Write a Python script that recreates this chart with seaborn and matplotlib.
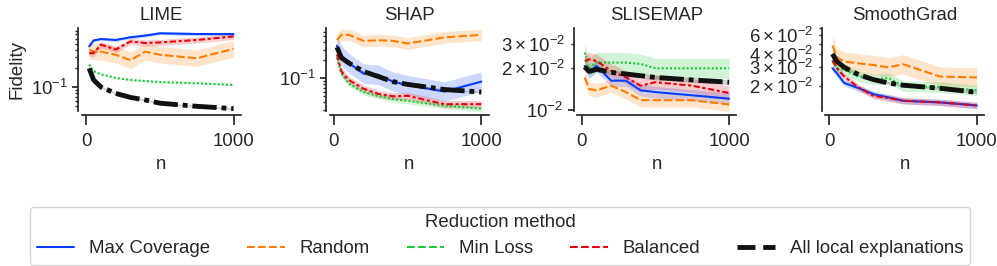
import numpy as np
import pandas as pd
import matplotlib
matplotlib.use("Agg")
import matplotlib.pyplot as plt
from matplotlib.lines import Line2D
import seaborn as sns

# ---------------- data ----------------
n_values = [20, 50, 100, 200, 300, 400, 500, 750, 1000]
explainers = ["LIME", "SHAP", "SLISEMAP", "SmoothGrad"]
methods = ["Max Coverage", "Random", "Min Loss", "Balanced", "All local explanations"]

lime_max_coverage = [0.45, 0.56, 0.59, 0.57, 0.63, 0.67, 0.73, 0.71, 0.71]
lime_random = [0.40, 0.37, 0.37, 0.33, 0.27, 0.37, 0.33, 0.29, 0.41]
lime_min_loss = [0.23, 0.18, 0.16, 0.14, 0.13, 0.125, 0.12, 0.115, 0.108]
lime_balanced = [0.35, 0.35, 0.48, 0.40, 0.54, 0.51, 0.52, 0.57, 0.65]
lime_all = [0.20, 0.13, 0.10, 0.079, 0.068, 0.062, 0.055, 0.049, 0.045]

shap_max_coverage = [0.35, 0.24, 0.18, 0.12, 0.114, 0.088, 0.077, 0.060, 0.088]
shap_random = [0.43, 0.53, 0.53, 0.42, 0.43, 0.42, 0.38, 0.48, 0.53]
shap_min_loss = [0.22, 0.12, 0.082, 0.059, 0.051, 0.045, 0.042, 0.035, 0.031]
shap_balanced = [0.25, 0.13, 0.094, 0.067, 0.055, 0.050, 0.051, 0.037, 0.037]
shap_all = [0.33, 0.22, 0.18, 0.13, 0.107, 0.088, 0.079, 0.065, 0.059]

slisemap_max_coverage = [0.0208, 0.0187, 0.0208, 0.0163, 0.0163, 0.0139, 0.0135, 0.0128, 0.0121]
slisemap_random = [0.0172, 0.0142, 0.0139, 0.0150, 0.0135, 0.0118, 0.0118, 0.0118, 0.0110]
slisemap_min_loss = [0.026, 0.020, 0.022, 0.022, 0.022, 0.0215, 0.020, 0.020, 0.020]
slisemap_balanced = [0.0226, 0.0232, 0.0226, 0.0192, 0.0172, 0.0150, 0.0159, 0.0150, 0.0133]
slisemap_all = [0.0205, 0.019, 0.0197, 0.0187, 0.0182, 0.0177, 0.0172, 0.0165, 0.0159]

smoothgrad_max_coverage = [0.0294, 0.0264, 0.0214, 0.0191, 0.0168, 0.0157, 0.0146, 0.0141, 0.0132]
smoothgrad_random = [0.048, 0.037, 0.034, 0.0326, 0.0315, 0.030, 0.032, 0.0246, 0.0241]
smoothgrad_min_loss = [0.034, 0.0294, 0.0284, 0.0246, 0.023, 0.0238, 0.020, 0.0196, 0.0183]
smoothgrad_balanced = [0.035, 0.0294, 0.0246, 0.0193, 0.0162, 0.0155, 0.0146, 0.0141, 0.0132]
smoothgrad_all = [0.040, 0.034, 0.030, 0.0255, 0.023, 0.0214, 0.0204, 0.0191, 0.0175]

# multiplicative half-width of the confidence bands (per explainer, per method)
lime_spread = [1.06, 1.36, 1.02, 1.12, 1.04]
shap_spread = [1.45, 1.25, 1.12, 1.15, 1.03]
slisemap_spread = [1.10, 1.12, 1.18, 1.12, 1.04]
smoothgrad_spread = [1.07, 1.23, 1.12, 1.07, 1.03]

# --------------------------------------
series = {
    "LIME": [lime_max_coverage, lime_random, lime_min_loss, lime_balanced, lime_all],
    "SHAP": [shap_max_coverage, shap_random, shap_min_loss, shap_balanced, shap_all],
    "SLISEMAP": [slisemap_max_coverage, slisemap_random, slisemap_min_loss, slisemap_balanced, slisemap_all],
    "SmoothGrad": [smoothgrad_max_coverage, smoothgrad_random, smoothgrad_min_loss, smoothgrad_balanced, smoothgrad_all],
}
spreads = {"LIME": lime_spread, "SHAP": shap_spread, "SLISEMAP": slisemap_spread, "SmoothGrad": smoothgrad_spread}

rows = []
for ex in explainers:
    for m, vals, sp in zip(methods, series[ex], spreads[ex]):
        for n, v in zip(n_values, vals):
            rows.append({"explainer": ex, "method": m, "n": n, "fidelity": v,
                         "lo": v / sp, "hi": v * sp})
df = pd.DataFrame(rows)

sns.set_theme(style="ticks")
plt.rcParams["font.family"] = ["Liberation Sans", "DejaVu Sans"]
plt.rcParams["mathtext.fontset"] = "custom"
plt.rcParams["mathtext.rm"] = "Liberation Sans"
plt.rcParams["mathtext.it"] = "Liberation Sans:italic"
plt.rcParams["mathtext.bf"] = "Liberation Sans:bold"
plt.rcParams["mathtext.sf"] = "Liberation Sans"
FS = 13.4
plt.rcParams.update({"font.size": FS, "axes.titlesize": FS, "axes.labelsize": FS,
                     "xtick.labelsize": FS, "ytick.labelsize": FS,
                     "legend.fontsize": FS, "legend.title_fontsize": FS,
                     "xtick.major.size": 7, "xtick.major.pad": 6,
                     "ytick.major.size": 4, "ytick.minor.size": 2.5})

colors = {"Max Coverage": "#023eff", "Random": "#ff7c00", "Min Loss": "#1ac938",
          "Balanced": "#e8000b", "All local explanations": "#111111"}
dashes = {"Max Coverage": "", "Random": (4, 1.5), "Min Loss": (1, 1),
          "Balanced": (3, 1.25, 1.5, 1.25), "All local explanations": (5, 1, 1, 1)}
widths = {"Max Coverage": 1.5, "Random": 1.5, "Min Loss": 1.5, "Balanced": 1.5,
          "All local explanations": 3.5}
ylims = {"LIME": (0.0405, 0.89), "SHAP": (0.028, 0.69),
         "SLISEMAP": (0.0098, 0.039), "SmoothGrad": (0.0116, 0.070)}

fig, axes = plt.subplots(1, 4, figsize=(9.97, 2.66), dpi=100)
fig.subplots_adjust(left=0.0822, right=0.987, top=0.895, bottom=0.581, wspace=0.56)

for ax, ex in zip(axes, explainers):
    d = df[df.explainer == ex]
    for m in methods:
        dm = d[d.method == m]
        ax.fill_between(dm["n"], dm["lo"], dm["hi"], color=colors[m], alpha=0.2, lw=0)
        sns.lineplot(data=dm, x="n", y="fidelity", ax=ax, color=colors[m],
                     lw=widths[m], errorbar=None, legend=False)
        ln = ax.lines[-1]
        if dashes[m]:
            ln.set_dashes(dashes[m])
    ax.set_yscale("log")
    ax.set_ylim(*ylims[ex])
    ax.set_xticks([0, 1000])
    ax.set_title(ex)
    ax.set_xlabel("n")
    ax.set_ylabel("Fidelity" if ex == "LIME" else "")
    sns.despine(ax=ax, offset=2.5)

handles = [Line2D([], [], color=colors[m], lw=widths[m],
                  linestyle="-" if m == "Max Coverage" else "--") for m in methods]
leg = fig.legend(handles, methods, title="Reduction method", ncol=5,
                 loc="lower center", bbox_to_anchor=(0.5015, 0.004),
                 borderaxespad=0, frameon=True)
leg.get_frame().set_edgecolor("0.8")

fig.savefig("out.png", dpi=100)
